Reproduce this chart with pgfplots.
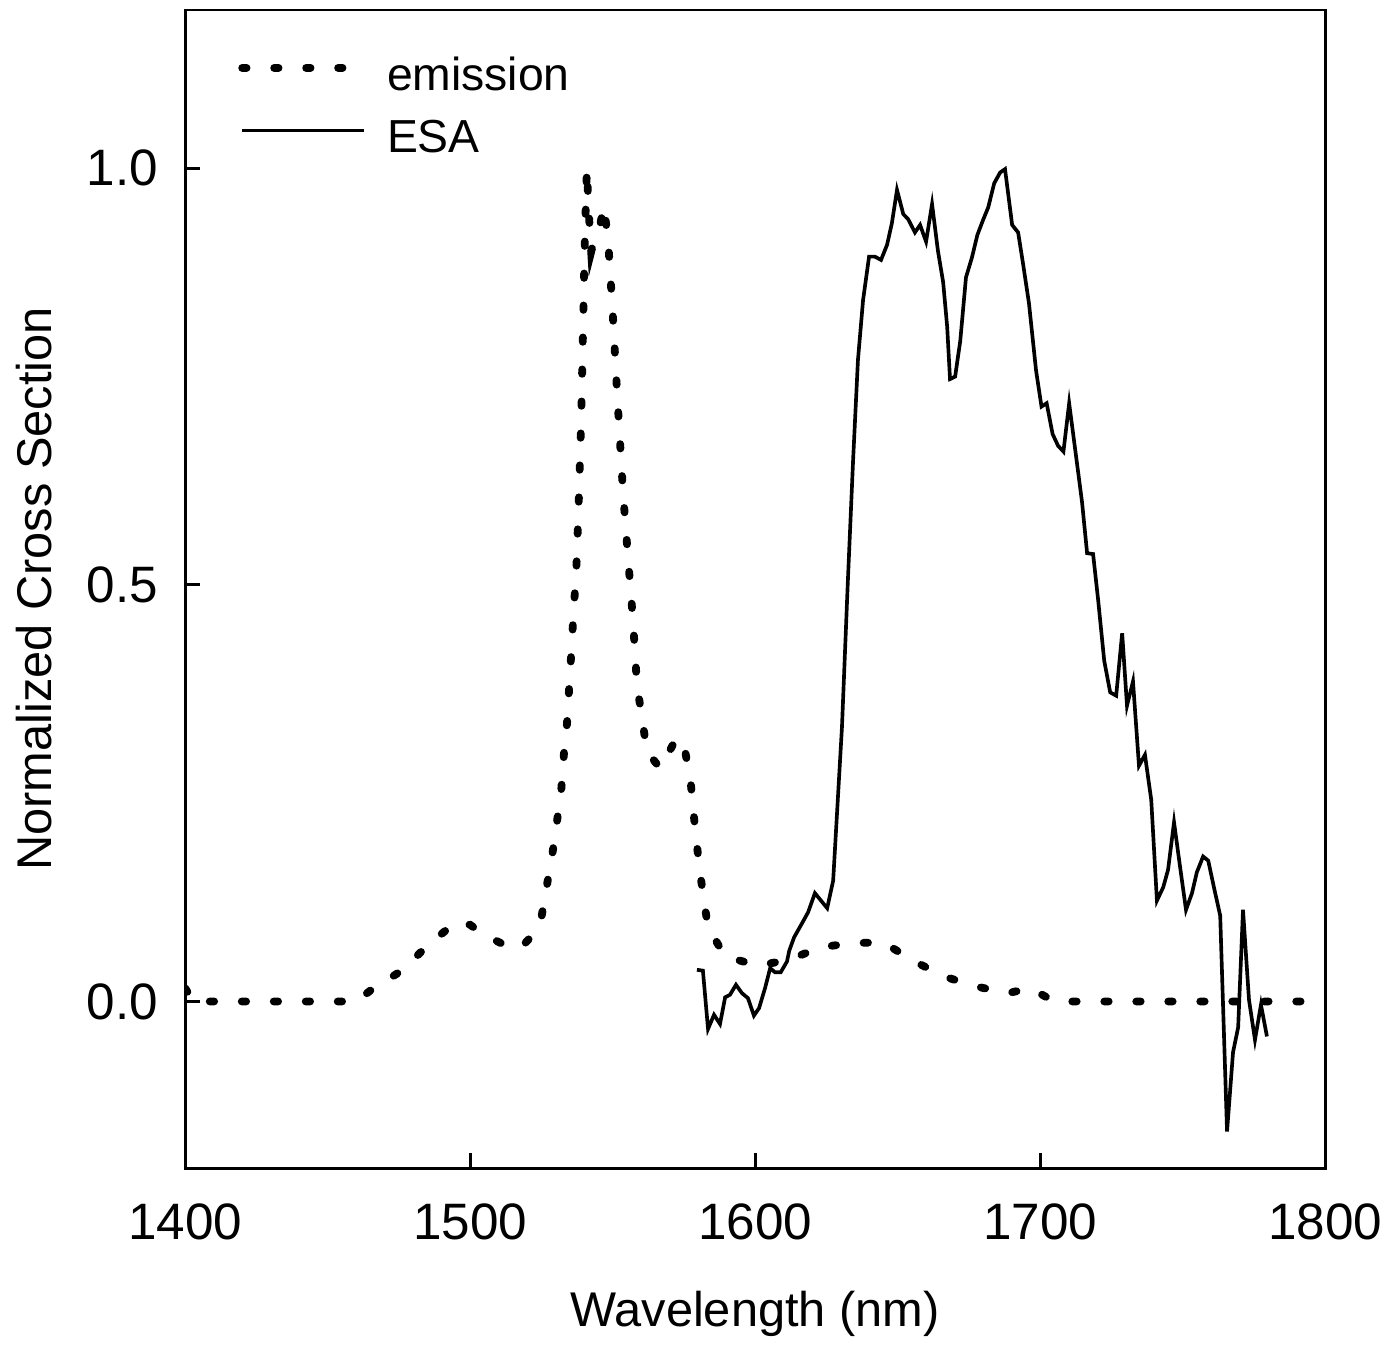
\documentclass[border=0pt]{standalone}
\usepackage{fontspec}
\setmainfont{Liberation Sans}
\usepackage{pgfplots}
\pgfplotsset{compat=1.18}
\begin{document}
\begin{tikzpicture}
\begin{axis}[
    scale only axis,
    width=233.8pt, height=237.5pt,
    xmin=1400, xmax=1800, ymin=-0.2, ymax=1.19,
    xtick={1400,1500,...,1800},
    ytick={0,0.5,1},
    tick pos=left,
    tick align=inside,
    major tick length=3pt,
    axis line style={line width=0.6pt},
    every tick/.style={line width=0.6pt, black},
    /pgf/number format/assume math mode=true,
    tick label style={font=\fontsize{10.5}{12}\selectfont},
    xticklabel style={/pgf/number format/1000 sep={}, yshift=-3.7pt},
    yticklabel style={/pgf/number format/.cd, fixed, fixed zerofill, precision=1, /tikz/xshift=-2pt},
    xlabel={Wavelength (nm)},
    ylabel={Normalized Cross Section},
    label style={font=\fontsize{10.8}{12}\selectfont},
    every axis x label/.style={at={(axis description cs:0.5,-0.126)}, anchor=center},
    every axis y label/.style={at={(axis description cs:-0.132,0.5)}, rotate=90, anchor=center},
    legend style={draw=none, fill=none, at={(axis description cs:0.033,0.977)}, anchor=north west,
        font=\fontsize{9.5}{11}\selectfont, row sep=0.6pt},
    legend cell align=left,
    legend image code/.code={\draw[#1] (0pt,2pt) -- (25pt,2pt); \path[draw=none] (0pt,0pt) -- (27.7pt,0pt);},
]
\addplot[black, line width=1.6pt, line cap=round, dash pattern=on 0.9pt off 5.66pt] coordinates {
(1400,0.016) (1403,0.0) (1430,0.0) (1460,0.0) (1465,0.013) (1476,0.037) (1486,0.07)
(1495,0.095) (1500,0.092) (1505,0.08) (1512,0.068) (1518,0.065) (1522,0.08) (1525,0.10)
(1527,0.14) (1529,0.18) (1530.5,0.216) (1532,0.254) (1533,0.30) (1534,0.333) (1535.2,0.40)
(1536.2,0.46) (1537.3,0.52) (1538.2,0.606) (1539,0.70) (1539.6,0.80) (1540.3,0.92) (1541,1.0)
(1541.6,0.95) (1542.5,0.90) (1544,0.92) (1545.5,0.93) (1547,0.955) (1548.5,0.91) (1550,0.83)
(1551.6,0.73) (1553.7,0.61) (1555.4,0.534) (1557.2,0.456) (1558.6,0.378) (1560.4,0.34)
(1562,0.30) (1566.7,0.28) (1572.6,0.317) (1575.5,0.30) (1577.5,0.26) (1579,0.206)
(1580.5,0.16) (1581.8,0.127) (1583.5,0.089) (1589.5,0.054) (1601,0.043) (1612,0.05)
(1622.8,0.065) (1634,0.07) (1645,0.071) (1655.4,0.049) (1666.3,0.03) (1677.5,0.018)
(1688.8,0.01) (1696.5,0.016) (1705,0.0) (1800,0.0)
};
\addlegendentry{emission}
\addplot[black, line width=0.75pt] coordinates {
(1579.6,0.038) (1581.7,0.037) (1583.5,-0.033) (1585.6,-0.016) (1587.7,-0.027) (1589.5,0.005)
(1591.2,0.008) (1593.3,0.02) (1595.4,0.01) (1597.5,0.004) (1599.6,-0.017) (1601.4,-0.008)
(1603.5,0.016) (1605.3,0.04) (1607,0.035) (1609,0.035) (1611.2,0.048) (1612,0.061)
(1613.7,0.077) (1616.5,0.094) (1618.6,0.107) (1621,0.13) (1625.3,0.112) (1627.4,0.145)
(1630.5,0.33) (1632.5,0.50) (1634.4,0.65) (1636.1,0.77) (1637.9,0.842) (1640,0.894)
(1642,0.894) (1644.2,0.89) (1646.3,0.908) (1648,0.934) (1649.8,0.974) (1652,0.945)
(1653.7,0.939) (1656.1,0.923) (1657.9,0.932) (1660,0.912) (1662.1,0.957) (1664.2,0.90)
(1666,0.863) (1667.4,0.81) (1668.4,0.747) (1670.2,0.75) (1672,0.793) (1674,0.869)
(1676.1,0.893) (1678,0.92) (1680,0.938) (1681.8,0.953) (1683.9,0.982) (1686,0.995)
(1687.7,0.999) (1690.2,0.932) (1692.3,0.923) (1694,0.886) (1696.1,0.838) (1698.6,0.757)
(1700.5,0.714) (1702.3,0.718) (1704.4,0.681) (1706.3,0.667) (1708.2,0.660) (1710.2,0.718)
(1714.7,0.60) (1716.5,0.538) (1718.6,0.537) (1720.4,0.481) (1722.5,0.409) (1724.6,0.371)
(1726.7,0.367) (1728.8,0.442) (1730.5,0.355) (1732.6,0.384) (1734.7,0.283) (1736.8,0.296)
(1739,0.242) (1741,0.121) (1743.2,0.137) (1744.9,0.158) (1747,0.215) (1749.1,0.162)
(1751.2,0.11) (1753.3,0.13) (1755,0.155) (1757.2,0.174) (1759,0.169) (1761,0.137)
(1763.2,0.103) (1765.6,-0.156) (1767.7,-0.061) (1769.5,-0.031) (1771.2,0.11) (1773.3,0.002)
(1775.4,-0.046) (1777.5,-0.004) (1779.6,-0.042)
};
\addlegendentry{ESA}
\end{axis}
\pgfresetboundingbox
\path ([shift={(-37.95pt,-36.5pt)}]current axis.south west) rectangle ([shift={(12.7pt,2.05pt)}]current axis.north east);
\end{tikzpicture}
\end{document}
